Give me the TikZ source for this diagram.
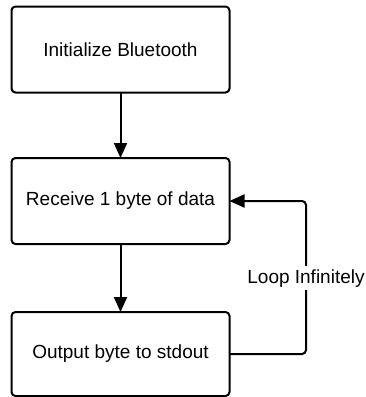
\documentclass[tikz,border=0pt]{standalone}
\usepackage{fontspec}
\setmainfont{Liberation Sans}
\usetikzlibrary{arrows.meta}
\begin{document}
\begin{tikzpicture}[x=1pt,y=-1pt,
  stepbox/.style={draw=black, line width=2pt, rounded corners=4pt,
    minimum width=218pt, minimum height=86pt, outer sep=0pt,
    font=\fontsize{19}{23}\selectfont},
  flow/.style={draw=black, line width=2pt,
    -{Triangle[length=15pt,width=13pt]}},
  looplabel/.style={fill=white, inner sep=3pt,
    font=\fontsize{19}{23}\selectfont}]
  \useasboundingbox (0,0) rectangle (365,397);

  % process steps
  \node[stepbox] (init) at (120.5,49.5) {Initialize Bluetooth};
  \node[stepbox] (recv) at (120.5,201) {Receive 1 byte of data};
  \node[stepbox, minimum height=84pt] (out) at (120.5,354) {Output byte to stdout};

  % straight flow
  \draw[flow] (init.south) -- (recv.north);
  \draw[flow] (recv.south) -- (out.north);

  % loop back from output to receive
  \coordinate (loopcorner) at (306,201);
  \draw[flow, rounded corners=4pt] (out.east) -| (loopcorner) -- (recv.east);
  \node[looplabel, anchor=base] (looptext) at (306,283) {Loop Infinitely};
\end{tikzpicture}
\end{document}
